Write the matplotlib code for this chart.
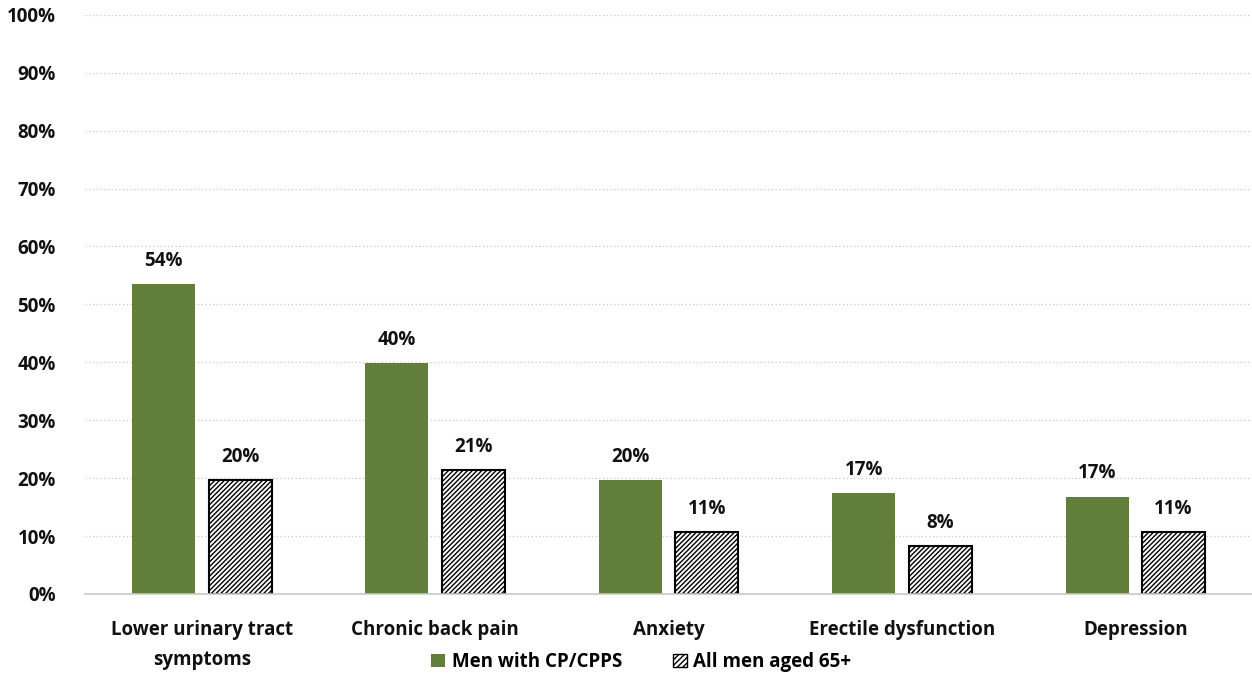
import numpy as np
import matplotlib
matplotlib.use("Agg")
import matplotlib.pyplot as plt
from matplotlib.patches import Patch

categories = ["Lower urinary tract\nsymptoms", "Chronic back pain", "Anxiety",
              "Erectile dysfunction", "Depression"]
cp_cpps = [53.5, 39.9, 19.7, 17.4, 16.8]
men_65 = [19.7, 21.4, 10.7, 8.3, 10.7]
series_names = ["Men with CP/CPPS", "All men aged 65+"]

green = "#617f3a"
plt.rcParams["font.family"] = ["Open Sans", "DejaVu Sans"]
plt.rcParams["hatch.linewidth"] = 1.0

fig = plt.figure(figsize=(12.52, 6.77), dpi=100)
ax = fig.add_axes([0.068, 0.1226, 0.932, 0.8555])

x = np.arange(len(categories))
w = 0.27
off = 0.164

b1 = ax.bar(x - off, cp_cpps, w, color=green, edgecolor="none", zorder=3)
b2 = ax.bar(x + off, men_65, w, facecolor="white", edgecolor="black",
            linewidth=1.5, hatch="///////", zorder=3)

for bars, vals in ((b1, cp_cpps), (b2, men_65)):
    for rect, v in zip(bars, vals):
        ax.text(rect.get_x() + rect.get_width() / 2, v + 2.3, f"{v:.0f}%",
                ha="center", va="bottom", fontsize=13.5, fontweight="bold",
                color="#111111", zorder=4)

ax.set_xlim(-0.5, len(categories) - 0.5)
ax.set_ylim(0, 100)
ax.set_yticks(range(0, 101, 10))
ax.set_yticklabels([f"{t}%" for t in range(0, 101, 10)])
ax.set_xticks(x)
ax.set_xticklabels(categories, linespacing=1.65)

ax.grid(axis="y", color="#c8c8c8", linestyle=(0, (1, 2)), linewidth=0.9, zorder=0)
ax.set_axisbelow(True)
for side in ("top", "right", "left"):
    ax.spines[side].set_visible(False)
ax.spines["bottom"].set_color("#c8c8c8")
ax.spines["bottom"].set_linewidth(1.2)
ax.spines["bottom"].set_zorder(5)

ax.tick_params(axis="both", length=0, labelsize=13.5, colors="#111111")
ax.tick_params(axis="x", pad=19)
ax.tick_params(axis="y", pad=21)
for lab in ax.get_xticklabels() + ax.get_yticklabels():
    lab.set_fontweight("bold")

handles = [Patch(facecolor=green, edgecolor="none"),
           Patch(facecolor="white", edgecolor="black", hatch="//////", linewidth=1.0)]
fig.legend(handles, series_names, loc="center", bbox_to_anchor=(0.512, 0.022),
           ncol=2, frameon=False, handlelength=0.75, handleheight=0.75,
           handletextpad=0.35, columnspacing=2.7,
           prop={"size": 13.5, "weight": "bold"})

fig.savefig("out.png", dpi=100)
